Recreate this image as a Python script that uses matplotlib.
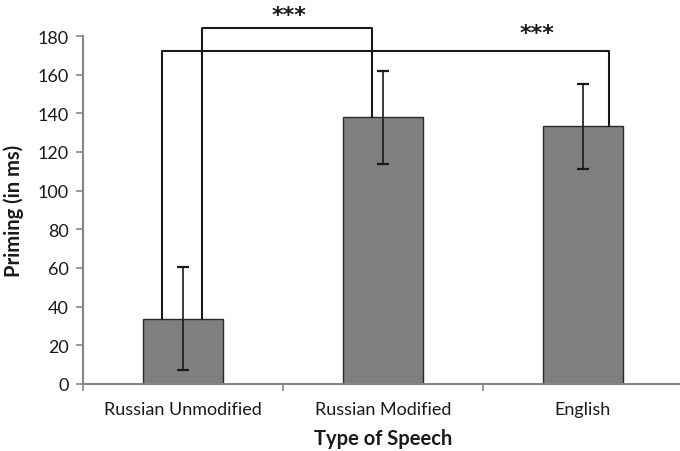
import matplotlib
matplotlib.use("Agg")
import matplotlib.pyplot as plt
import numpy as np

# data
categories = ["Russian Unmodified", "Russian Modified", "English"]
priming = [33.8, 138.0, 133.4]
errors = [26.5, 24.0, 22.0]

# significance brackets: (left x, right x, height, label x, label y)
brackets = [
    (0.095, 0.945, 184.0, 0.53, 191.0),
    (-0.105, 2.13, 172.5, 1.77, 181.5),
]
stars = ["***", "***"]

plt.rcParams["font.family"] = ["Lato", "DejaVu Sans"]

fig = plt.figure(figsize=(6.8, 4.52), dpi=100)
ax = fig.add_axes([83 / 680, 67 / 452, 600 / 680, 348 / 452])

x = np.arange(len(categories))
ax.bar(x, priming, width=0.4, color="#7f7f7f", edgecolor="#2b2b2b", linewidth=1.0, zorder=2)
ax.errorbar(x, priming, yerr=errors, fmt="none", ecolor="#1a1a1a",
            elinewidth=1.2, capsize=4.5, capthick=1.6, zorder=3)

# brackets from bar tops up to the bar line
for (x0, x1, h, lx, ly), s in zip(brackets, stars):
    i0 = int(round(x0))
    i1 = int(round(x1))
    ax.plot([x0, x0, x1, x1], [priming[i0], h, h, priming[i1]],
            color="#1a1a1a", lw=1.5, clip_on=False, zorder=4)
    ax.text(lx, ly, s, ha="center", va="center", fontsize=16, fontweight="bold",
            family="DejaVu Sans", color="#1a1a1a", clip_on=False)

ax.set_xlim(-0.5, 2.5)
ax.set_ylim(0, 180)
ax.set_yticks(np.arange(0, 181, 20))
ax.set_xticks(x)
ax.set_xticklabels(categories)
ax.set_xticks([-0.5, 0.5, 1.5], minor=True)

for side in ["top", "right"]:
    ax.spines[side].set_visible(False)
for side in ["left", "bottom"]:
    ax.spines[side].set_color("#868686")
    ax.spines[side].set_linewidth(1.5)

ax.tick_params(axis="y", length=5, width=1.2, color="#868686", labelsize=13,
               labelcolor="#1a1a1a", pad=5)
ax.tick_params(axis="x", which="major", length=0, labelsize=13, labelcolor="#1a1a1a", pad=12)
ax.tick_params(axis="x", which="minor", length=5, width=1.2, color="#868686")

ax.set_ylabel("Priming (in ms)", fontsize=14.5, fontweight="bold", color="#1a1a1a", labelpad=10)
ax.set_xlabel("Type of Speech", fontsize=14.5, fontweight="bold", color="#1a1a1a", labelpad=8)

fig.savefig("out.png", dpi=100)
